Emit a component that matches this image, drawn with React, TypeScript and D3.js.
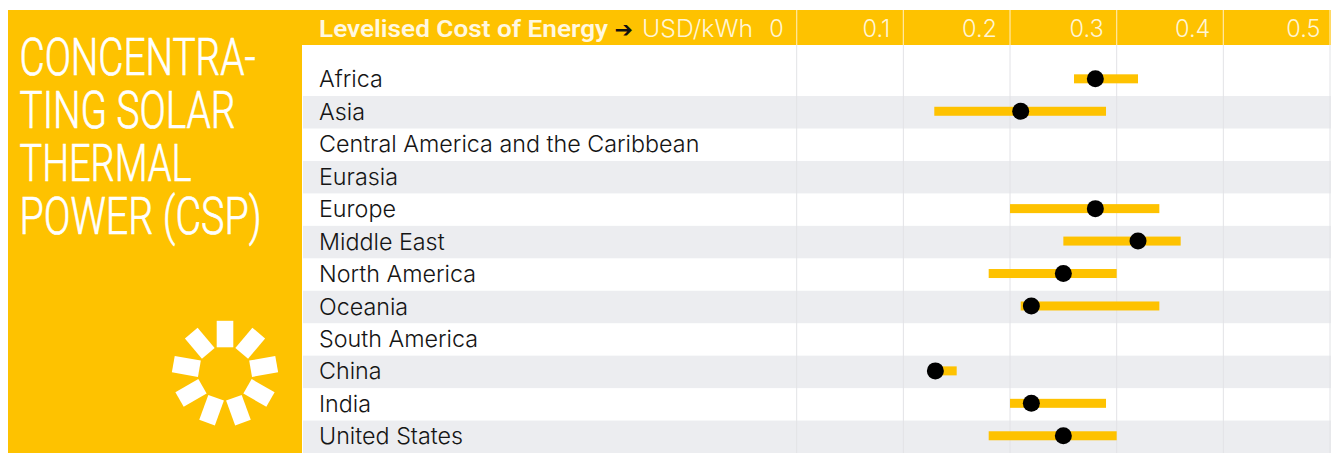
import React from "react";
import * as d3 from "d3";

const categories = ["Africa","Asia","Central America and the Caribbean","Eurasia","Europe","Middle East","North America","Oceania","South America","China","India","United States"];
const lowValues: (number|null)[] = [0.26,0.129,null,null,0.2,0.25,0.18,0.21,null,0.13,0.2,0.18];
const highValues: (number|null)[] = [0.32,0.29,null,null,0.34,0.36,0.3,0.34,null,0.15,0.29,0.3];
const midValues: (number|null)[] = [0.28,0.21,null,null,0.28,0.32,0.25,0.22,null,0.13,0.22,0.25];
const tickValues = [0,0.1,0.2,0.3,0.4,0.5];
const titleLines = ["CONCENTRA-","TING SOLAR","THERMAL","POWER (CSP)"];
const titleWidths = [236,216,172,242];
const rayAngles = [0,40,80,120,160,200,240,280,320];

const W = 1331, H = 453;
const YELLOW = "#fec200";
const FONT = "Inter, Roboto, sans-serif";
const TITLE_SQUEEZE = 0.75;

export default function App() {
  const x = d3.scaleLinear().domain([0,0.5]).range([796.7,1330]);
  const y = d3.scaleBand<string>().domain(categories).range([63.6,453]);
  const step = y.step();
  return (
    <svg width={W} height={H} viewBox={`0 0 ${W} ${H}`} style={{position:"absolute",left:0,top:0,display:"block",background:"#fff"}} fontFamily={FONT}>
      <rect x={8} y={10} width={294} height={443} fill={YELLOW}/>
      <rect x={302} y={10} width={W-302} height={35} fill={YELLOW}/>
      {categories.map((c,i)=> i%2===1 ? <rect key={c} x={303} y={y(c)!} width={W-303} height={step} fill="#ecedf0"/> : null)}
      {tickValues.map(t=>(
        <g key={t}>
          <line x1={x(t)} x2={x(t)} y1={45} y2={H} stroke="#e2e3e6" strokeWidth={1}/>
          <line x1={x(t)} x2={x(t)} y1={10} y2={45} stroke="#ffe9a6" strokeWidth={1.2}/>
          <text x={x(t)-(t===0.5?9.5:13)} y={37} textAnchor="end" fontSize={23.5} fontWeight={300} fill="#fff5d6">{d3.format("~g")(t)}</text>
        </g>
      ))}
      <text x={319} y={37} fontSize={24} fontWeight={600} fontFamily="Roboto, sans-serif" fill="#fff8e0" textLength={289} lengthAdjust="spacingAndGlyphs">Levelised Cost of Energy</text>
      <text x={614.5} y={36.5} fontSize={22} fontWeight={700} fontFamily="DejaVu Sans" fill="#111">➔</text>
      <text x={642} y={37} fontSize={23.5} fontWeight={300} fill="#fff5d6" textLength={111} lengthAdjust="spacingAndGlyphs">USD/kWh</text>
      {categories.map(c=>(
        <text key={c} x={319} y={y(c)!+step/2+7.6} fontSize={23.3} fontWeight={300} fill="#151515">{c}</text>
      ))}
      {categories.map((c,i)=>{
        const lo=lowValues[i],hi=highValues[i],m=midValues[i];
        if(lo==null||hi==null||m==null) return null;
        const cy=y(c)!+step/2-1;
        return <g key={c}>
          <rect x={x(lo)} y={cy-4.5} width={x(hi)-x(lo)} height={9} fill={YELLOW}/>
          <circle cx={x(m)} cy={cy} r={8.5} fill="#000"/>
        </g>;
      })}
      {titleLines.map((t,i)=>(
        <text key={t} transform={`translate(19.5,${74.5+i*53}) scale(${TITLE_SQUEEZE},1)`} fontSize={52} fontWeight={300} fontFamily="Roboto, sans-serif" fill="#fff" stroke="#fff" strokeWidth={0.7} textLength={titleWidths[i]/TITLE_SQUEEZE} lengthAdjust="spacingAndGlyphs">{t}</text>
      ))}
      <g transform="translate(225,373.3)">
        {rayAngles.map(a=>(
          <rect key={a} x={-8.3} y={-52.5} width={16.6} height={26.5} fill="#fff" transform={`rotate(${a})`}/>
        ))}
      </g>
    </svg>
  );
}
